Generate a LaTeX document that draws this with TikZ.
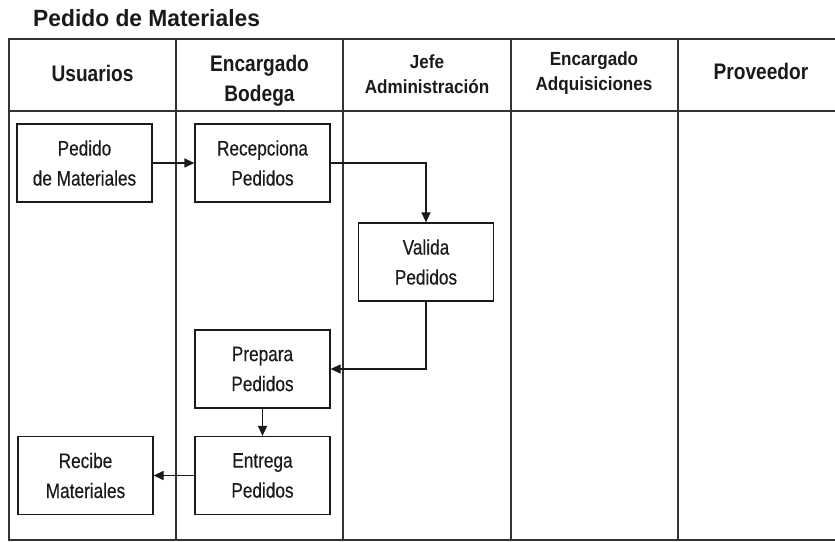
\documentclass[tikz,border=0pt]{standalone}
\usepackage{fontspec}
\setmainfont{Liberation Sans}
\newfontfamily\bodyf{Liberation Sans}[FakeStretch=0.82,FakeBold=0.3]
\newfontfamily\headf{Liberation Sans}[FakeStretch=0.85]
\newfontfamily\headsf{Liberation Sans}[FakeStretch=0.9]
\newfontfamily\titlef{Liberation Sans}[FakeStretch=0.97]
\usetikzlibrary{arrows.meta}
\definecolor{ink}{HTML}{1A1A1A}
\definecolor{framec}{HTML}{333333}
\tikzset{
  frameline/.style={draw=framec, line width=1.5bp},
  procbox/.style={draw=ink, line width=1.2bp, minimum width=135bp, minimum height=78bp,
    inner sep=0pt, align=center, text=ink, font=\bodyf\fontsize{21bp}{30bp}\selectfont},
  bighead/.style={align=center, text=ink, inner sep=0pt, font=\headf\bfseries\fontsize{22.5bp}{30bp}\selectfont},
  smallhead/.style={align=center, text=ink, inner sep=0pt, font=\headsf\bfseries\fontsize{19bp}{25bp}\selectfont},
  flow/.style={draw=ink, line width=1.2bp, -{Triangle[length=10bp,width=9bp]}}
}
\begin{document}
\begin{tikzpicture}[x=1bp,y=-1bp]
\useasboundingbox (0,0) rectangle (835,542);
% title
\node[anchor=base west, inner sep=0pt, text=ink, font=\titlef\bfseries\fontsize{23.5bp}{28bp}\selectfont] (title) at (33,27) {Pedido de Materiales};
% frame
\draw[frameline] (835,39) -- (9,39) -- (9,540) -- (835,540);
\draw[frameline] (9,111) -- (835,111);
\foreach \xx in {176,343,511,678} {\draw[frameline] (\xx,39) -- (\xx,540);}
% headers
\node[bighead] (h1) at (92.5,73.6) {Usuarios};
\node[bighead] (h2) at (259.5,81) {Encargado\\Bodega};
\node[smallhead] (h3) at (427,74) {Jefe\\Administración};
\node[smallhead] (h4) at (594,73.5) {Encargado\\Adquisiciones};
\node[bighead] (h5) at (761,71.5) {Proveedor};
% process boxes
\node[procbox] (p1) at (84.5,163) {Pedido\\de Materiales};
\node[procbox] (p2) at (262.5,163) {Recepciona\\Pedidos};
\node[procbox] (p3) at (426,262) {Valida\\Pedidos};
\node[procbox] (p4) at (262.5,369) {Prepara\\Pedidos};
\node[procbox] (p5) at (262.5,475.5) {Entrega\\Pedidos};
\node[procbox] (p6) at (85.5,475.5) {Recibe\\Materiales};
% connectors
\draw[flow] (p1.east) -- (p2.west);
\draw[flow] (p2.east) -| (p3.north);
\draw[flow] (p3.south) |- (p4.east);
\draw[flow] (p4.south) -- (p5.north);
\draw[flow] (p5.west) -- (p6.east);
\end{tikzpicture}
\end{document}
